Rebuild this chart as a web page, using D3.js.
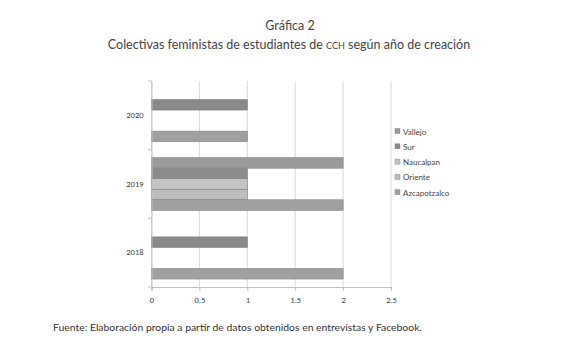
<!DOCTYPE html>
<html>
<head>
<meta charset="utf-8">
<script src="https://cdn.jsdelivr.net/npm/d3@7"></script>
<style>
  body { margin: 0; background: #fff; }
  svg { display: block; font-family: Lato, "Open Sans", sans-serif; }
</style>
</head>
<body>
<svg id="chart" width="580" height="352"></svg>
<script>
// data
var years = ["2020", "2019", "2018"];
var series = ["Vallejo", "Sur", "Naucalpan", "Oriente", "Azcapotzalco"];
// values per year, order: 2020, 2019, 2018
var vallejo = [0, 2, 0];
var sur = [1, 1, 1];
var naucalpan = [0, 1, 0];
var oriente = [0, 1, 0];
var azcapotzalco = [1, 2, 2];
var xTicks = [0, 0.5, 1, 1.5, 2, 2.5];

var values = [vallejo, sur, naucalpan, oriente, azcapotzalco];
var colors = ["#9a9a9a", "#8a8a8a", "#c4c4c4", "#bdbdbd", "#a0a0a0"];

var svg = d3.select("#chart");

//titles
svg.append("text")
    .attr("x", 290).attr("y", 30)
    .attr("text-anchor", "middle")
    .style("font-size", "12.5px").style("fill", "#444")
    .text("Gráfica 2");
var sub = svg.append("text")
    .attr("x", 289).attr("y", 49)
    .attr("text-anchor", "middle")
    .style("font-size", "12.5px").style("fill", "#444");
sub.append("tspan").text("Colectivas feministas de estudiantes de ");
sub.append("tspan").style("font-variant", "small-caps").text("cch");
sub.append("tspan").text(" según año de creación");

var x = d3.scaleLinear().domain([0, 2.5]).range([151.5, 391]);
var y0 = d3.scaleBand().domain(years).range([81, 287]);
var y1 = d3.scaleBand().domain(series).range([8, y0.bandwidth() - 8]);

//gridlines
svg.append("g")
    .selectAll("line")
    .data(xTicks)
    .enter().append("line")
    .attr("x1", function(d) { return x(d); })
    .attr("x2", function(d) { return x(d); })
    .attr("y1", 81).attr("y2", 287)
    .style("stroke", "#d9d9d9").style("stroke-width", 1);

//bars
var groups = svg.append("g")
    .selectAll("g")
    .data(years)
    .enter().append("g")
    .attr("transform", function(d) { return "translate(0," + y0(d) + ")"; });

groups.selectAll("rect")
    .data(function(d, i) {
        return series.map(function(s, j) { return {s: s, v: values[j][i], c: colors[j]}; });
    })
    .enter().append("rect")
    .filter(function(d) { return d.v > 0; })
    .attr("x", x(0))
    .attr("y", function(d) { return y1(d.s); })
    .attr("width", function(d) { return x(d.v) - x(0); })
    .attr("height", y1.bandwidth())
    .style("fill", function(d) { return d.c; })
    .style("stroke", "#7f7f7f").style("stroke-width", 0.6);

//axes
var xAxis = svg.append("g")
    .attr("transform", "translate(0,287)")
    .call(d3.axisBottom(x).tickValues(xTicks).tickSize(4).tickFormat(d3.format("")));
var yAxis = svg.append("g")
    .attr("transform", "translate(151.5,0)")
    .call(d3.axisLeft(y0).tickSize(0).tickPadding(8));

// year separator ticks
svg.append("g")
    .selectAll("line")
    .data([81, y0("2019"), y0("2018"), 287])
    .enter().append("line")
    .attr("x1", 148).attr("x2", 151.5)
    .attr("y1", function(d) { return d; }).attr("y2", function(d) { return d; })
    .style("stroke", "#bfbfbf");

[xAxis, yAxis].forEach(function(a) {
    a.select(".domain").style("stroke", "#bfbfbf");
    a.selectAll(".tick line").style("stroke", "#bfbfbf");
    a.selectAll("text").style("font-size", "8.5px").style("fill", "#444")
        .style("font-family", "Calibri, Carlito, 'Liberation Sans', sans-serif");
});
xAxis.selectAll("text").attr("dy", "1.1em");

//legend
var legend = svg.append("g")
    .selectAll("g")
    .data(series)
    .enter().append("g")
    .attr("transform", function(d, i) { return "translate(395," + (132 + i * 15.3) + ")"; });
legend.append("rect")
    .attr("x", 0).attr("y", -3.5)
    .attr("width", 5).attr("height", 5)
    .style("fill", function(d, i) { return colors[i]; })
    .style("stroke", "#7f7f7f").style("stroke-width", 0.4);
legend.append("text")
    .attr("x", 8).attr("y", 0)
    .attr("dy", "0.32em")
    .style("font-size", "8px").style("fill", "#444")
    .text(function(d) { return d; });

//source
svg.append("text")
    .attr("x", 53).attr("y", 331)
    .style("font-size", "10.4px").style("fill", "#333")
    .text("Fuente: Elaboración propia a partir de datos obtenidos en entrevistas y Facebook.");
</script>
</body>
</html>
